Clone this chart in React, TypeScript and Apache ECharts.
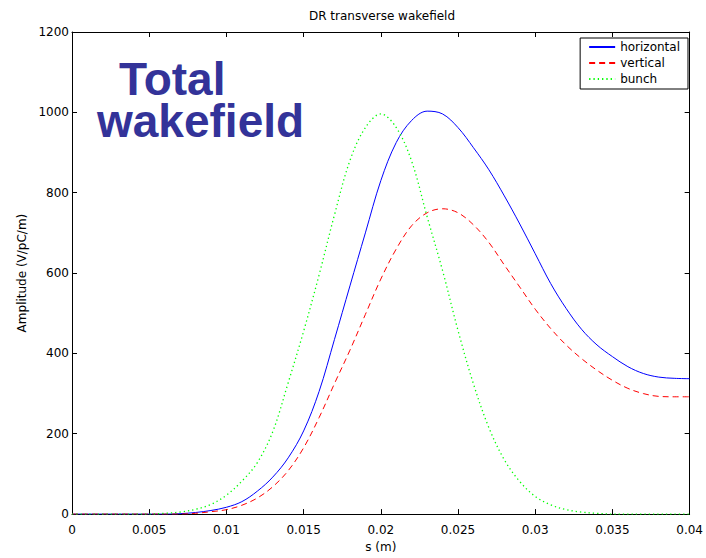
import React, { useEffect, useRef } from 'react';
import * as echarts from 'echarts';

const FONT = '"DejaVu Sans", sans-serif';

const sValues = [
  0, 0.001, 0.002, 0.003, 0.004, 0.005, 0.006, 0.007, 0.008, 0.009,
  0.01, 0.011, 0.012, 0.013, 0.014, 0.015, 0.016, 0.017, 0.018, 0.019,
  0.02, 0.021, 0.022, 0.023, 0.024, 0.025, 0.026, 0.027, 0.028, 0.029,
  0.03, 0.031, 0.032, 0.033, 0.034, 0.035, 0.036, 0.037, 0.038, 0.039, 0.04,
];

const horizontal = [
  0, 0, 0, 0, 0, 0, 0, 1, 4, 9,
  17, 31, 57, 92, 140, 207, 305, 435, 568, 700,
  830, 925, 980, 1003, 996, 962, 912, 857, 792, 722,
  648, 574, 512, 460, 421, 392, 367, 350, 341, 338, 337,
];

const vertical = [
  0, 0, 0, 0, 0, 0, 0, 0, 2, 6,
  11, 22, 40, 68, 108, 165, 240, 325, 408, 497,
  585, 660, 718, 750, 760, 750, 720, 676, 620, 565,
  510, 462, 421, 387, 358, 333, 313, 300, 293, 292, 292,
];

const bunch = [
  0, 0, 0, 0, 0, 0, 2, 5, 12, 24,
  47, 82, 128, 205, 327, 455, 595, 745, 880, 962,
  996, 962, 878, 740, 606, 457, 324, 215, 135, 81,
  44, 23, 11, 5, 2, 0, 0, 0, 0, 0, 0,
];

const xTicks = { min: 0, max: 0.04, interval: 0.005 };
const yTicks = { min: 0, max: 1200, interval: 200 };

const seriesNames = ['horizontal', 'vertical', 'bunch'];

export default function App() {
  const ref = useRef<HTMLDivElement>(null);

  useEffect(() => {
    document.body.style.margin = '0';
    const chart = echarts.init(ref.current!, null, { renderer: 'svg' });
    const pairs = (arr: number[]) => sValues.map((s, i) => [s, arr[i]]);
    const lineCommon = { lineStyle: { color: '#000', width: 1 }, onZero: false };
    const tickCommon = { inside: true, length: 5, lineStyle: { color: '#000', width: 1 } };
    const labelText = { color: '#000', fontSize: 12, fontFamily: FONT };
    const bigFont = {
      fontFamily: '"Liberation Sans", Arial, sans-serif',
      fontWeight: 'bold',
      fontSize: 46,
      lineHeight: 42,
      fill: '#333399',
    };

    chart.setOption({
      animation: false,
      backgroundColor: '#fff',
      grid: { left: 72, right: 13, top: 32, bottom: 37, containLabel: false },
      xAxis: [
        {
          type: 'value',
          ...xTicks,
          position: 'bottom',
          axisLine: lineCommon,
          axisTick: tickCommon,
          splitLine: { show: false },
          axisLabel: {
            ...labelText,
            margin: 10,
            formatter: (v: number) => String(parseFloat(v.toFixed(3))),
          },
          name: 's (m)',
          nameLocation: 'middle',
          nameGap: 22,
          nameTextStyle: labelText,
        },
        {
          type: 'value',
          ...xTicks,
          position: 'top',
          axisLine: lineCommon,
          axisTick: tickCommon,
          splitLine: { show: false },
          axisLabel: { show: false },
        },
      ],
      yAxis: [
        {
          type: 'value',
          ...yTicks,
          position: 'left',
          axisLine: lineCommon,
          axisTick: tickCommon,
          splitLine: { show: false },
          axisLabel: {
            ...labelText,
            margin: 3,
            formatter: (v: number) => String(Math.round(v)),
          },
          name: 'Amplitude (V/pC/m)',
          nameLocation: 'middle',
          nameGap: 24,
          nameTextStyle: labelText,
        },
        {
          type: 'value',
          ...yTicks,
          position: 'right',
          axisLine: lineCommon,
          axisTick: tickCommon,
          splitLine: { show: false },
          axisLabel: { show: false },
        },
      ],
      legend: {
        data: seriesNames,
        orient: 'vertical',
        right: 18,
        top: 38,
        itemWidth: 26,
        itemHeight: 12,
        itemGap: 4,
        padding: [3, 8, 4, 8],
        borderColor: '#000',
        borderWidth: 1,
        borderRadius: 0,
        backgroundColor: '#fff',
        itemStyle: { opacity: 0 },
        textStyle: labelText,
      },
      graphic: [
        {
          type: 'text',
          x: 382,
          y: 16,
          style: {
            text: 'DR transverse wakefield',
            font: '12px ' + FONT,
            fill: '#000',
            align: 'center',
            verticalAlign: 'middle',
          },
        },
        {
          type: 'text',
          x: 97,
          y: 58,
          z: 100,
          style: {
            text: '{t|Total}\n{w|wakefield}',
            ...bigFont,
            align: 'left',
            verticalAlign: 'top',
            rich: {
              t: { ...bigFont, padding: [0, 0, 0, 22] },
              w: { ...bigFont },
            },
          },
        },
      ],
      series: [
        {
          name: 'horizontal',
          type: 'line',
          data: pairs(horizontal),
          symbol: 'none',
          smooth: 0.35,
          lineStyle: { color: '#0000ff', width: 1, type: 'solid' },
          itemStyle: { color: '#0000ff' },
        },
        {
          name: 'vertical',
          type: 'line',
          data: pairs(vertical),
          symbol: 'none',
          smooth: 0.35,
          lineStyle: { color: '#ff0000', width: 1, type: [6, 4] },
          itemStyle: { color: '#ff0000' },
        },
        {
          name: 'bunch',
          type: 'line',
          data: pairs(bunch),
          symbol: 'none',
          smooth: 0.35,
          lineStyle: { color: '#00ff00', width: 1.3, type: [1.3, 3] },
          itemStyle: { color: '#00ff00' },
        },
      ],
    });
    return () => chart.dispose();
  }, []);

  return (
    <div
      ref={ref}
      style={{ position: 'absolute', left: 0, top: 0, width: 706, height: 558 }}
    />
  );
}
